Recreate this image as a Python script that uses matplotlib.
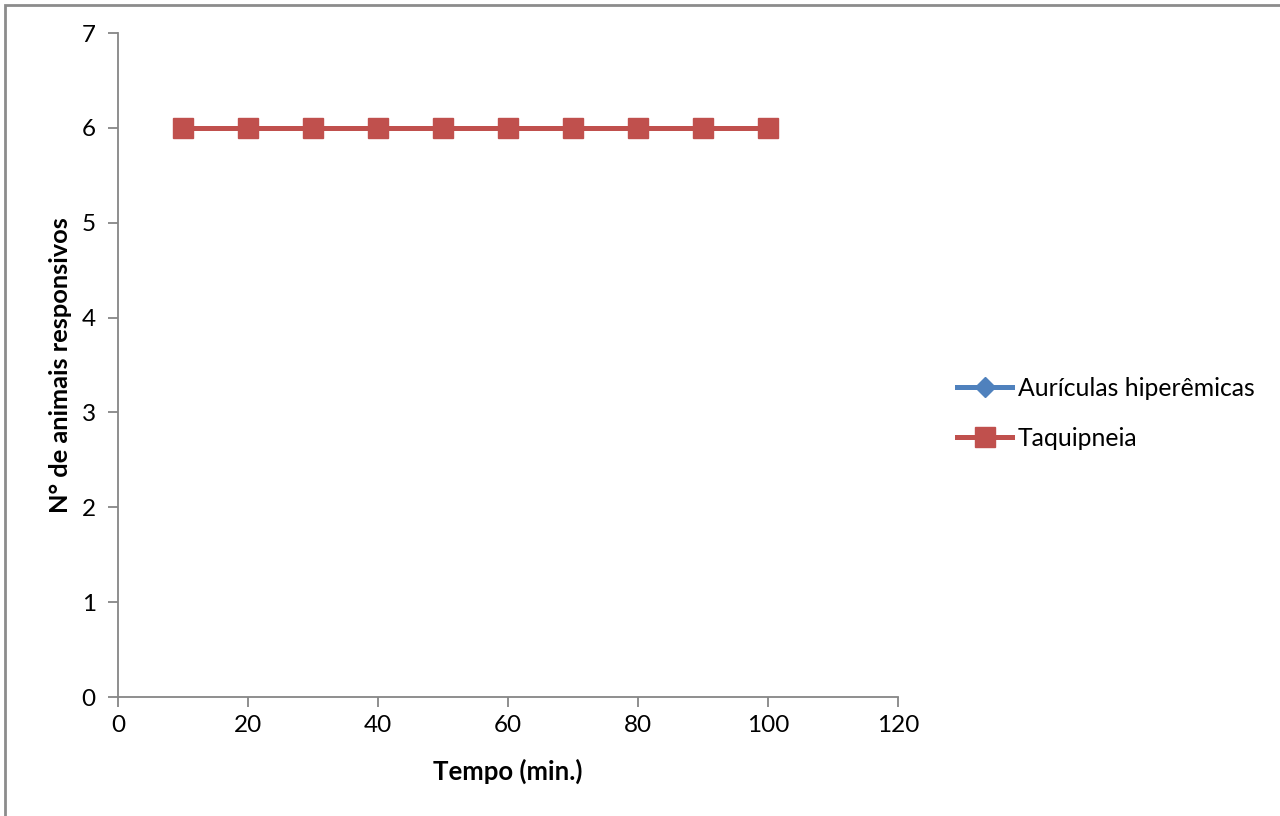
import matplotlib
matplotlib.use("Agg")
import matplotlib.pyplot as plt
from matplotlib.patches import Rectangle

# Data
tempo = [10, 20, 30, 40, 50, 60, 70, 80, 90, 100]
auriculas = [6, 6, 6, 6, 6, 6, 6, 6, 6, 6]
taquipneia = [6, 6, 6, 6, 6, 6, 6, 6, 6, 6]
x_ticks = [0, 20, 40, 60, 80, 100, 120]
y_ticks = [0, 1, 2, 3, 4, 5, 6, 7]

plt.rcParams['font.family'] = ['Lato', 'DejaVu Sans']

W, H = 1280, 816
fig = plt.figure(figsize=(W / 100, H / 100), dpi=100)
fig.patch.set_facecolor('white')

# Chart-area border (extends past the right and bottom edges)
fig.patches.append(Rectangle((5 / W, -0.05), 1.2, 1.05 - 4.5 / H,
                             transform=fig.transFigure, fill=False,
                             edgecolor='#8c8c8c', linewidth=2.0))

ax = fig.add_axes([118 / W, 1 - 697 / H, (898 - 118) / W, (697 - 33) / H])

blue = '#4F81BD'
red = '#C0504D'
ax.plot(tempo, auriculas, color=blue, linewidth=3.6, marker='D',
        markersize=10, label='Aurículas hiperêmicas', zorder=3)
ax.plot(tempo, taquipneia, color=red, linewidth=3.6, marker='s',
        markersize=14, label='Taquipneia', zorder=4)

ax.set_xlim(0, 120)
ax.set_ylim(0, 7)
ax.set_xticks(x_ticks)
ax.set_yticks(y_ticks)

for s in ['top', 'right']:
    ax.spines[s].set_visible(False)
for s in ['left', 'bottom']:
    ax.spines[s].set_color('#868686')
    ax.spines[s].set_linewidth(1.3)

ax.tick_params(axis='both', direction='out', length=7, width=1.3,
               color='#868686', labelsize=17.5, labelcolor='black')
ax.tick_params(axis='x', pad=6)
ax.tick_params(axis='y', pad=9)

ax.set_xlabel('Tempo (min.)', fontsize=18.5, fontweight='bold', labelpad=16)
ax.set_ylabel('N° de animais responsivos', fontsize=18.3, fontweight='bold',
              labelpad=7)

leg = ax.legend(loc='center left', bbox_to_anchor=(1.0635, 0.427),
                frameon=False, fontsize=17.8, handlelength=2.2,
                handletextpad=0.25, labelspacing=1.1, borderaxespad=0)

fig.savefig('out.png', dpi=100, facecolor='white')
